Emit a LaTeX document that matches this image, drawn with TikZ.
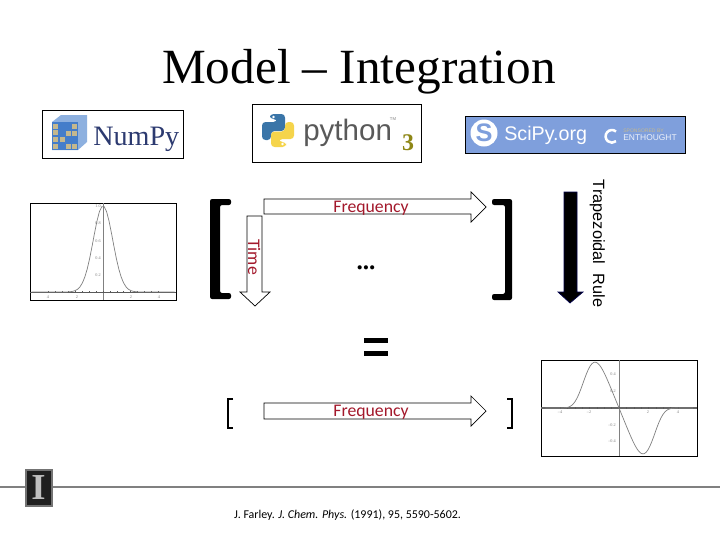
\documentclass[tikz,border=0pt]{standalone}
\usepackage{fontspec}
\setmainfont{Liberation Serif}
\newfontfamily\calfont{Carlito}
\newfontfamily\arialfont{Liberation Sans}
\usetikzlibrary{arrows.meta,positioning,calc}
\definecolor{labelred}{HTML}{A3182B}
\definecolor{sciblue}{HTML}{7F9FDC}
\definecolor{npnavy}{HTML}{2C3A70}
\definecolor{npblue}{HTML}{2F6FC4}
\definecolor{nptan}{HTML}{C4B88E}
\definecolor{pyblue}{HTML}{3A75A8}
\definecolor{pyyellow}{HTML}{F5D44B}
\tikzset{
  logobox/.style={draw=black, line width=0.7pt, fill=white},
  plotbox/.style={draw=black, line width=0.8pt},
  blockarrow/.style={draw=black, line width=0.5pt, fill=white},
  redlabel/.style={font=\calfont\fontsize{12.6}{13}\selectfont, text=labelred, inner sep=0pt, anchor=base},
  brackfill/.style={fill=black, rounded corners=1.5pt},
  thinbrack/.style={line width=1.6pt},
  ticklabel/.style={font=\fontsize{3}{3}\selectfont, text=gray, inner sep=0pt},
  plotcurve/.style={black!50, line width=0.5pt},
}
\begin{document}
\begin{tikzpicture}[x=0.025cm,y=-0.025cm]
  \useasboundingbox (0,0) rectangle (720,540);
  \fill[white] (0,0) rectangle (720,540);

  % Title
  \node[font=\fontsize{35}{38}\selectfont, inner sep=0pt, anchor=base] (title) at (359,83) {Model -- Integration};

  % NumPy logo
  \node[logobox, minimum width=141*0.025cm, minimum height=48*0.025cm, anchor=north west, inner sep=0pt] (numpybox) at (42,110) {};
  \fill[npblue!55!white] (52,122) -- (61,115) -- (87,115) -- (87,142) -- (78,150) -- (52,150) -- cycle;
  \fill[npblue!90!white] (52,122) rectangle (78,150);
  \foreach \cx/\cy in {53/124,53/130,53/137,53/144,60/137,66/131,66/144,72/124,72/131,72/144}
    \fill[nptan] (\cx,\cy) rectangle ++(4.5,4.5);
  \node[font=\fontsize{20}{22}\selectfont, text=npnavy, inner sep=0pt, anchor=base west] (numpytext) at (93,145) {NumPy};

  % Python logo
  \node[logobox, minimum width=169*0.025cm, minimum height=58*0.025cm, anchor=north west, inner sep=0pt] (pythonbox) at (252,104) {};
  \fill[pyblue, rounded corners=2.5pt] (270,114) -- (285,114) -- (285,131) -- (271,131) -- (271,140) -- (262,140) -- (262,122) -- (277,122) -- (277,119) -- (270,119) -- cycle;
  \fill[pyyellow, rounded corners=2.5pt] (286,147) -- (271,147) -- (271,131.5) -- (285,131.5) -- (285,122) -- (294,122) -- (294,139) -- (279,139) -- (279,142) -- (286,142) -- cycle;
  \fill[white] (273.5,117) circle (1pt);
  \fill[white] (282.5,144) circle (1pt);
  \node[font=\arialfont\fontsize{21}{22}\selectfont, text=black!65, inner sep=0pt, anchor=base west] (pythontext) at (303,140) {python};
  \node[font=\arialfont\fontsize{3}{3}\selectfont, text=gray, inner sep=0pt] (pythontm) at (393,119) {TM};
  \node[font=\bfseries\fontsize{17}{18}\selectfont, text=olive!85!gray, inner sep=0pt] (pythonthree) at (408,143) {3};

  % SciPy logo
  \node[draw=black, line width=0.7pt, fill=sciblue, minimum width=220*0.025cm, minimum height=37*0.025cm, anchor=north west, inner sep=0pt] (scipybox) at (465,116) {};
  \fill[white] (484,133) circle (9.6pt);
  \node[font=\arialfont\bfseries\fontsize{18}{18}\selectfont, text=sciblue, inner sep=0pt] (scipys) at (484,133) {S};
  \node[font=\arialfont\fontsize{14}{16}\selectfont, text=white, inner sep=0pt, anchor=west] (scipytext) at (504,135) {SciPy.org};
  \node[font=\arialfont\fontsize{3.6}{4}\selectfont, text=nptan, inner sep=0pt, anchor=west] (scipyspons) at (623,131) {SPONSORED BY};
  \node[font=\arialfont\fontsize{6}{6}\selectfont, text=white!85!sciblue, inner sep=0pt, anchor=west] (scipyent) at (623,138) {ENTHOUGHT};
  \draw[white, line width=1.8pt] (616,131.5) arc (50:310:4.5pt);

  % Gaussian plot
  \node[plotbox, minimum width=146*0.025cm, minimum height=97*0.025cm, anchor=north west, inner sep=0pt] (gaussbox) at (30,203) {};
  \draw[black!65, line width=0.7pt] (30,292) -- (176,292);
  \draw[gray, line width=0.4pt] (103,203) -- (103,300);
  \foreach \tk in {-4,-3.5,...,4}
    \draw[black!65, line width=0.3pt] ({103+13.75*\tk},291) -- ({103+13.75*\tk},293);
  \draw[plotcurve, domain=-5.2:5.2, samples=60]
    plot ({103+13.75*\x}, {292-86*exp(-\x*\x)});
  \foreach \tx/\tl in {48/4,77/2,131/2,159/4}
    \node[ticklabel] (gaussx\tx) at (\tx,297) {\tl};
  \foreach \ty/\tl in {223/0.8,241/0.6,258/0.4,275/0.2,206/1.0}
    \node[ticklabel, anchor=east] (gaussy\ty) at (101,\ty) {\tl};

  % Top matrix
  \fill[brackfill] (210,199) -- (231,199) -- (231,205) -- (220,205) -- (220,293) -- (231,293) -- (231,299) -- (210,299) -- cycle;
  \fill[brackfill] (492,199) -- (512,199) -- (512,300) -- (492,300) -- (492,294) -- (505,294) -- (505,205) -- (492,205) -- cycle;
  \draw[blockarrow] (264,199) -- (471,199) -- (471,192) -- (486,207) -- (471,222) -- (471,214) -- (264,214) -- cycle;
  \node[redlabel] (freqtop) at (371,212.5) {Frequency};
  \draw[blockarrow] (247,216) -- (262,216) -- (262,292) -- (270,292) -- (255,306) -- (240,292) -- (247,292) -- cycle;
  \node[redlabel, rotate=-90] (timelabel) at (248,257) {Time};
  \node[font=\bfseries\fontsize{18}{18}\selectfont, inner sep=0pt, anchor=base] (dots) at (366,269) {...};

  % Trapezoid arrow
  \draw[fill=black, draw=black!70!blue, line width=0.5pt] (564,192) -- (577,192) -- (577,292) -- (583,292) -- (570,303) -- (558,292) -- (564,292) -- cycle;
  \node[font=\arialfont\fontsize{11.6}{12}\selectfont, rotate=-90, inner sep=0pt, anchor=base] (traplabel) at (593,243.5) {Trapezoidal\ \ Rule};

  % Equals
  \fill[black] (364,338) rectangle (388,343);
  \fill[black] (364,351) rectangle (388,356);

  % Bottom vector
  \draw[thinbrack] (233,399) -- (228,399) -- (228,428) -- (233,428);
  \draw[thinbrack] (507,399) -- (512,399) -- (512,428) -- (507,428);
  \draw[blockarrow] (264,403) -- (471,403) -- (471,396) -- (486,411) -- (471,426) -- (471,419) -- (264,419) -- cycle;
  \node[redlabel] (freqbottom) at (371,416.5) {Frequency};

  % Derivative plot
  \node[plotbox, minimum width=156*0.025cm, minimum height=96*0.025cm, anchor=north west, inner sep=0pt] (derivbox) at (541,360) {};
  \draw[black!60, line width=0.8pt] (541,408) -- (697,408);
  \draw[gray, line width=0.6pt] (619,360) -- (619,456);
  \foreach \tk in {-4,-3.5,...,4}
    \draw[black!65, line width=0.3pt] ({619+14.75*\tk},407) -- ({619+14.75*\tk},409);
  \draw[plotcurve, domain=-5:5, samples=80]
    plot ({619+14.75*\x}, {408+36.2*\x*exp(-(\x/2.3)^4)});
  \foreach \tx/\tl in {560/--4,589/--2,648/2,678/4}
    \node[ticklabel] (derivx\tx) at (\tx,412) {\tl};
  \foreach \ty/\tl in {374/0.4,391/0.2,425/--0.2,441/--0.4}
    \node[ticklabel, anchor=east] (derivy\ty) at (616,\ty) {\tl};

  % Footer
  \draw[gray, line width=1pt] (0,487) -- (720,487);
  \node[draw=black!55, line width=1.5pt, fill=black!88, minimum width=26*0.025cm, minimum height=36*0.025cm, anchor=north west, inner sep=0pt, font=\bfseries\fontsize{26}{26}\selectfont, text=black!25] (illogo) at (24.5,468.5) {I};
  \node[font=\calfont\fontsize{8.5}{10}\selectfont, inner sep=0pt] (citation) at (347.5,515)
    {J. Farley. \textit{J. Chem. Phys.} (1991), 95, 5590-5602.};
\end{tikzpicture}
\end{document}
